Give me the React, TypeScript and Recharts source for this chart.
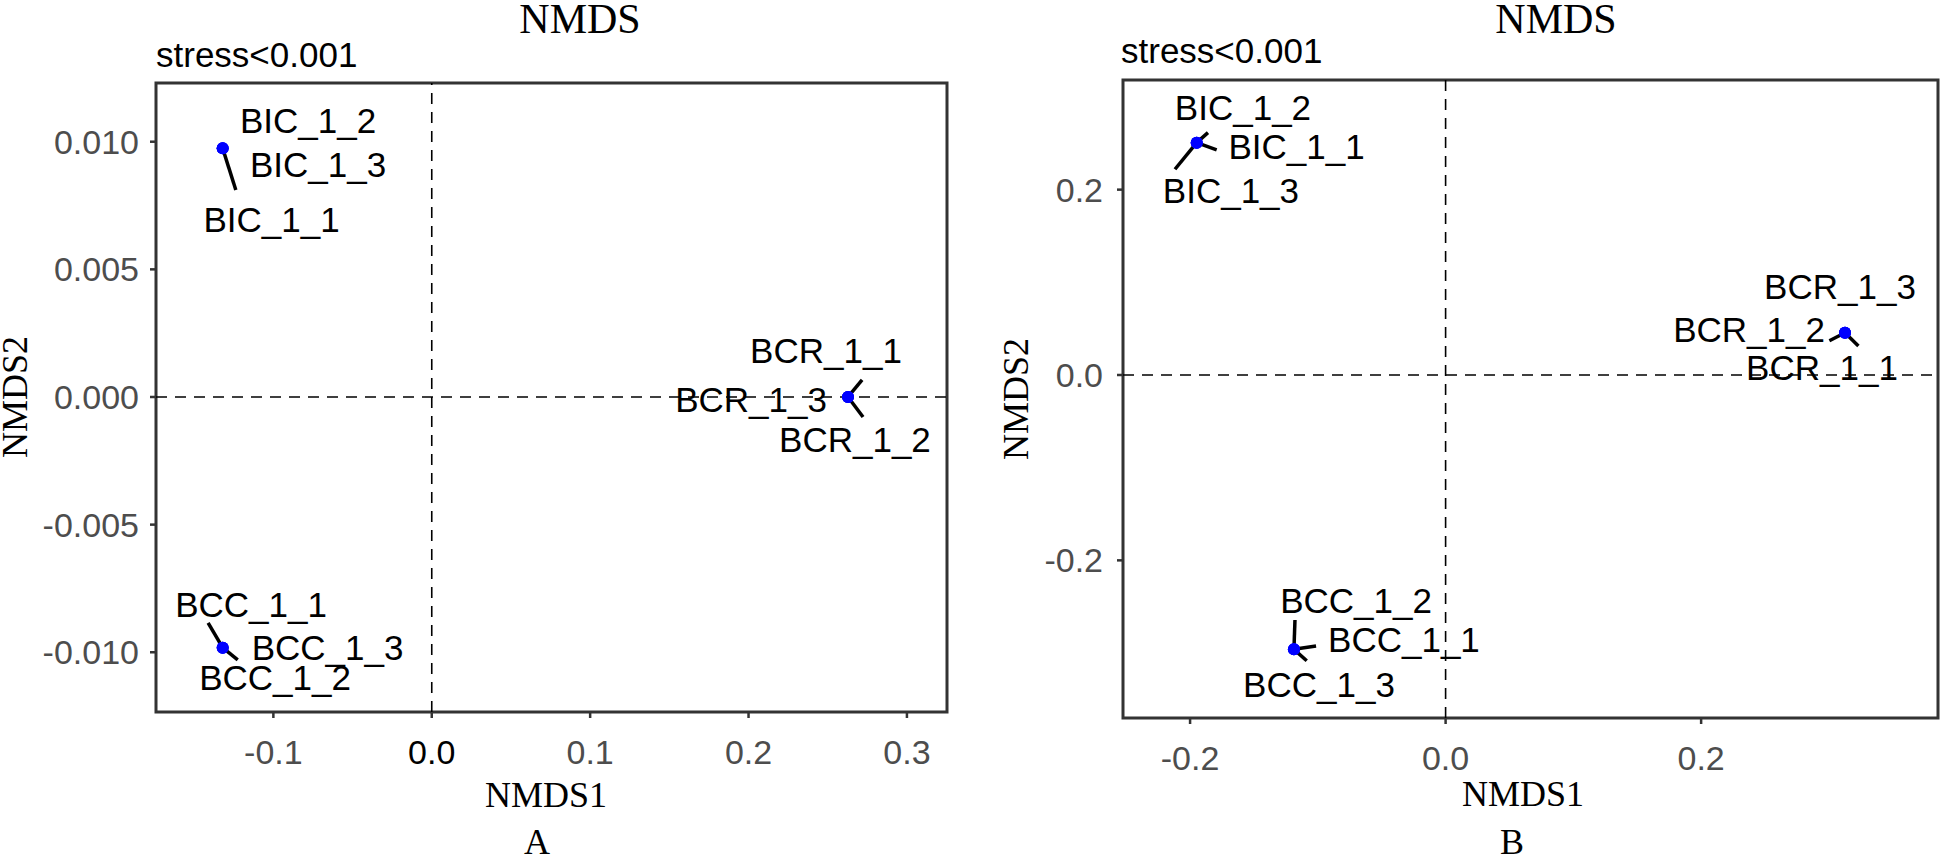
import React from 'react'
import { ScatterChart, Scatter, XAxis, YAxis, ReferenceLine, ReferenceArea } from 'recharts'

// ---- Panel A ----
const namesA = ['BIC_1_1', 'BIC_1_2', 'BIC_1_3', 'BCR_1_1', 'BCR_1_2', 'BCR_1_3', 'BCC_1_1', 'BCC_1_2', 'BCC_1_3']
const nmds1A = [-0.132, -0.132, -0.132, 0.2628, 0.2628, 0.2628, -0.132, -0.132, -0.132]
const nmds2A = [0.00974, 0.00974, 0.00974, 0, 0, 0, -0.00982, -0.00982, -0.00982]
// label positions (ggrepel output), data units
const labelXA = [-0.1011, -0.0781, -0.0718, 0.2489, 0.2672, 0.2016, -0.1141, -0.0989, -0.0658]
const labelYA = [0.00695, 0.01083, 0.00911, 0.00182, -0.00166, -0.0001, -0.00813, -0.01099, -0.00981]
// repel segment ends (null = no segment)
const segXA = [-0.1237, null, null, 0.2717, 0.2723, null, -0.1412, -0.1225, null]
const segYA = [0.00811, null, null, 0.000666, -0.000783, null, -0.00885, -0.0103, null]
const xTicksA = [-0.1, 0, 0.1, 0.2, 0.3]
const yTicksA = [-0.01, -0.005, 0, 0.005, 0.01]
const xDomainA = [-0.1741, 0.3253]
const yDomainA = [-0.01234, 0.0123]

// ---- Panel B ----
const namesB = ['BIC_1_1', 'BIC_1_2', 'BIC_1_3', 'BCR_1_1', 'BCR_1_2', 'BCR_1_3', 'BCC_1_1', 'BCC_1_2', 'BCC_1_3']
const nmds1B = [-0.1948, -0.1948, -0.1948, 0.3126, 0.3126, 0.3126, -0.1187, -0.1187, -0.1187]
const nmds2B = [0.2507, 0.2507, 0.2507, 0.0456, 0.0456, 0.0456, -0.296, -0.296, -0.296]
const labelXB = [-0.1167, -0.1586, -0.168, 0.2946, 0.2375, 0.3087, -0.0326, -0.0701, -0.0991]
const labelYB = [0.2462, 0.2887, 0.1994, 0.0081, 0.0494, 0.0952, -0.2851, -0.2437, -0.3336]
const segXB = [-0.1792, -0.186, -0.2118, 0.3231, 0.3004, null, -0.1014, -0.1179, -0.1087]
const segYB = [0.2428, 0.2615, 0.222, 0.0313, 0.037, null, -0.2924, -0.2644, -0.3083]
const xTicksB = [-0.2, 0, 0.2]
const yTicksB = [-0.2, 0, 0.2]
const xDomainB = [-0.2525, 0.3854]
const yDomainB = [-0.3701, 0.3183]

const SANS = '"Liberation Sans", Arial, sans-serif'
const SERIF = '"Liberation Serif", "Times New Roman", serif'

// x tick; in panel A the "0.0" label comes out black in the original
function XTick({ x, y, payload, digits, darkZero }: any) {
  const dark = darkZero && payload.value === 0
  return (
    <text x={x} y={y} dy="0.71em" textAnchor="middle" fontSize={34} fontFamily={SANS}
      fill={dark ? '#000' : '#4D4D4D'}>{Number(payload.value).toFixed(digits)}</text>
  )
}

function Panel({ names, xs, ys, lx, ly, sx, sy, xTicks, yTicks, xDomain, yDomain, xDigits, yDigits,
  width, height, margin, yWidth, xHeight, yTickMargin, darkZero }: any) {
  const points = names.map((n: string, i: number) => ({ name: n, x: xs[i], y: ys[i] }))
  const labels = names.map((n: string, i: number) => ({ name: n, x: lx[i], y: ly[i] }))
  const segs = names
    .map((n: string, i: number) => ({ name: n, x0: xs[i], y0: ys[i], x1: sx[i], y1: sy[i] }))
    .filter((s: any) => s.x1 !== null)
  const tickStyle = { fontSize: 34, fill: '#4D4D4D', fontFamily: SANS }
  return (
    <ScatterChart width={width} height={height} margin={margin}>
      <XAxis type="number" dataKey="x" domain={xDomain} ticks={xTicks} allowDataOverflow
        height={xHeight} axisLine={false} tickSize={6} tickMargin={22}
        tickLine={{ stroke: '#333333', strokeWidth: 2.5 }}
        tick={(p: any) => <XTick {...p} digits={xDigits} darkZero={darkZero} />} />
      <YAxis type="number" dataKey="y" domain={yDomain} ticks={yTicks} allowDataOverflow
        tickFormatter={(v: number) => v.toFixed(yDigits)} width={yWidth}
        axisLine={false} tickSize={6} tickMargin={yTickMargin}
        tickLine={{ stroke: '#333333', strokeWidth: 2.5 }} tick={tickStyle} />
      <ReferenceLine x={0} stroke="#000" strokeWidth={1.6} strokeDasharray="11 8" />
      <ReferenceLine y={0} stroke="#000" strokeWidth={1.6} strokeDasharray="11 8" />
      <Scatter data={points} isAnimationActive={false}
        shape={(p: any) => <circle cx={p.cx} cy={p.cy} r={6} fill="#0000FF" />} />
      {segs.map((s: any) => (
        <ReferenceLine key={s.name} segment={[{ x: s.x0, y: s.y0 }, { x: s.x1, y: s.y1 }]}
          stroke="#000" strokeWidth={3.5} ifOverflow="visible" />
      ))}
      <Scatter data={labels} isAnimationActive={false}
        shape={(p: any) => (
          <text x={p.cx} y={p.cy} dy="0.36em" textAnchor="middle" fontSize={35}
            fontFamily={SANS} fill="#000">{p.payload.name}</text>
        )} />
      <ReferenceArea x1={xDomain[0]} x2={xDomain[1]} y1={yDomain[0]} y2={yDomain[1]}
        fill="none" stroke="#333333" strokeWidth={3} ifOverflow="visible" />
    </ScatterChart>
  )
}

export default function App() {
  return (
    <div style={{ position: 'absolute', left: 0, top: 0, width: 1944, height: 857, background: '#fff' }}>
      <div style={{ position: 'absolute', left: 0, top: 0 }}>
        <Panel names={namesA} xs={nmds1A} ys={nmds2A} lx={labelXA} ly={labelYA} sx={segXA} sy={segYA}
          xTicks={xTicksA} yTicks={yTicksA} xDomain={xDomainA} yDomain={yDomainA} xDigits={1} yDigits={3}
          width={970} height={857} margin={{ top: 83, right: 23, bottom: 0, left: 0 }}
          yWidth={156} xHeight={145} yTickMargin={11} darkZero />
      </div>
      <div style={{ position: 'absolute', left: 970, top: 0 }}>
        <Panel names={namesB} xs={nmds1B} ys={nmds2B} lx={labelXB} ly={labelYB} sx={segXB} sy={segYB}
          xTicks={xTicksB} yTicks={yTicksB} xDomain={xDomainB} yDomain={yDomainB} xDigits={1} yDigits={1}
          width={974} height={857} margin={{ top: 80, right: 6, bottom: 0, left: 0 }}
          yWidth={153} xHeight={139} yTickMargin={14} />
      </div>
      <svg width={1944} height={857} style={{ position: 'absolute', left: 0, top: 0, pointerEvents: 'none' }}>
        <g fontFamily={SERIF} fill="#000">
          <text x={580} y={33} fontSize={42} textAnchor="middle">NMDS</text>
          <text x={1556} y={33} fontSize={42} textAnchor="middle">NMDS</text>
          <text x={546} y={807} fontSize={36} textAnchor="middle">NMDS1</text>
          <text x={1523} y={806} fontSize={36} textAnchor="middle">NMDS1</text>
          <text x={27} y={397} fontSize={36} textAnchor="middle" transform="rotate(-90 27 397)">NMDS2</text>
          <text x={1028} y={399} fontSize={36} textAnchor="middle" transform="rotate(-90 1028 399)">NMDS2</text>
          <text x={537} y={854} fontSize={36} textAnchor="middle">A</text>
          <text x={1512} y={854} fontSize={36} textAnchor="middle">B</text>
        </g>
        <g fontFamily={SANS} fill="#000" fontSize={35}>
          <text x={156} y={67}>stress&lt;0.001</text>
          <text x={1121} y={63}>stress&lt;0.001</text>
        </g>
      </svg>
    </div>
  )
}
